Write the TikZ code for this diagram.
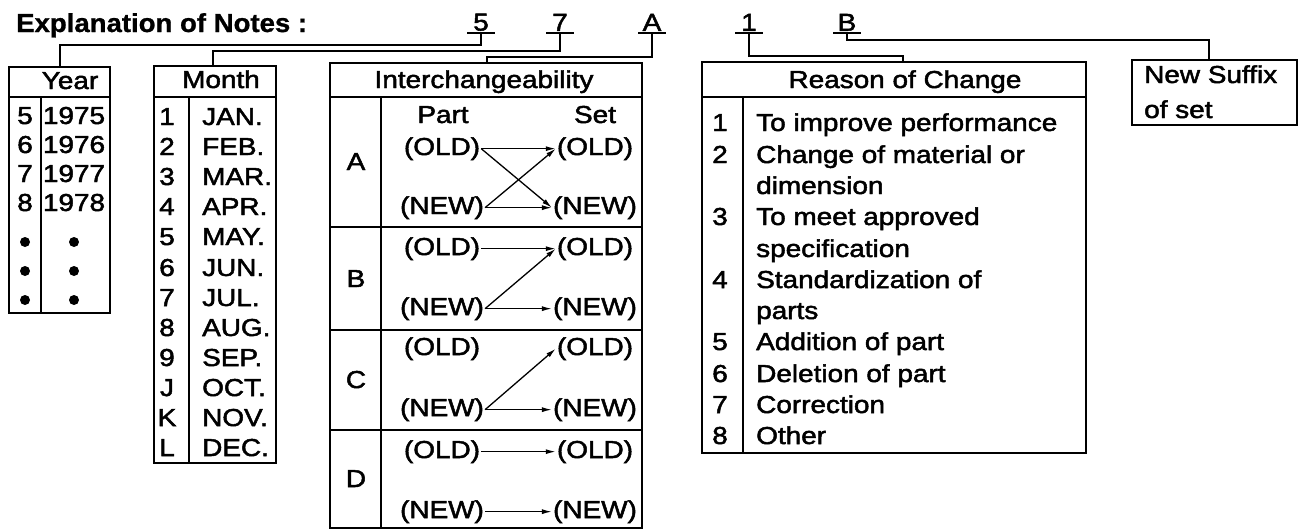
\documentclass[tikz,border=0pt]{standalone}
\usepackage{fontspec}
\setmainfont{Liberation Sans}[FakeStretch=1.14, FakeBold=2]
\newfontfamily\titlefont{Liberation Sans}[FakeStretch=1.06, FakeBold=1]
\usetikzlibrary{arrows.meta}

\begin{document}
\begin{tikzpicture}[x=1pt, y=-1pt,
  every node/.style={inner sep=1pt, font=\fontsize{24.5}{28}\selectfont},
  row/.style={anchor=base},
  word/.style={anchor=base west},
  box/.style={line width=1.6pt},
  lead/.style={line width=1.3pt},
  tag/.style={anchor=south, minimum width=27pt, inner ysep=2pt, inner xsep=0pt},
  dot/.style={circle, fill, inner sep=0pt, minimum size=10pt},
  flow/.style={line width=1.3pt, -{Latex[length=10pt, width=5pt]}}]

\useasboundingbox (0,0) rectangle (1303,530);

\node [word, font=\titlefont\bfseries\fontsize{26}{30}\selectfont] (title)  at  (15, 32) {Explanation of Notes :};

% -------- Note tags and leaders -----------
\node [tag] (t5)  at  (481, 33) {5};
\node [tag] (t7)  at  (560, 33) {7};
\node [tag] (tA)  at  (652, 33) {A};
\node [tag] (t1)  at  (749, 33) {1};
\node [tag] (tB)  at  (847, 33) {B};

\coordinate (yeartop)    at  (60, 67);
\coordinate (monthtop)   at  (213, 66);
\coordinate (inttop)     at  (487, 63);
\coordinate (reasontop)  at  (903, 62);
\coordinate (suffixtop)  at  (1209, 60);

\draw [lead] (t5.south west) -- (t5.south east);
\draw [lead] (t7.south west) -- (t7.south east);
\draw [lead] (tA.south west) -- (tA.south east);
\draw [lead] (t1.south west) -- (t1.south east);
\draw [lead] (tB.south west) -- (tB.south east);

\draw [lead] (t5.south) -- ++(0,12) -| (yeartop);
\draw [lead] (t7.south) -- ++(0,18) -| (monthtop);
\draw [lead] (tA.south) -- ++(0,24) -| (inttop);
\draw [lead] (t1.south) -- ++(0,23) -| (reasontop);
\draw [lead] (tB.south) -- ++(0,7) -| (suffixtop);

% -------- Year -----------
\draw [box] (9,67) rectangle (110,313);
\draw [box] (9,97) -- (110,97);
\draw [box] (41,97) -- (41,313);
\node [row] (year)  at  (70, 89) {Year};

\node [row] (y5)  at  (25, 124) {5};
\node [row] (y75) at  (74, 124) {1975};
\node [row] (y6)  at  (25, 153) {6};
\node [row] (y76) at  (74, 153) {1976};
\node [row] (y7)  at  (25, 182) {7};
\node [row] (y77) at  (74, 182) {1977};
\node [row] (y8)  at  (25, 211) {8};
\node [row] (y78) at  (74, 211) {1978};
\node [dot] (yd1)  at  (25, 242) {};
\node [dot] (yd1b) at  (74, 242) {};
\node [dot] (yd2)  at  (25, 271) {};
\node [dot] (yd2b) at  (74, 271) {};
\node [dot] (yd3)  at  (25, 300) {};
\node [dot] (yd3b) at  (74, 300) {};

% -------- Month -----------
\draw [box] (154,66) rectangle (276,463);
\draw [box] (154,97) -- (276,97);
\draw [box] (189,97) -- (189,463);
\node [row] (month)  at  (221, 88) {Month};

\node [row] (m1)  at  (167, 125) {1};
\node [word] (mJan) at  (201, 125) {JAN.};
\node [row] (m2)  at  (167, 155) {2};
\node [word] (mFeb) at  (201, 155) {FEB.};
\node [row] (m3)  at  (167, 185) {3};
\node [word] (mMar) at  (201, 185) {MAR.};
\node [row] (m4)  at  (167, 215) {4};
\node [word] (mApr) at  (201, 215) {APR.};
\node [row] (m5)  at  (167, 245) {5};
\node [word] (mMay) at  (201, 245) {MAY.};
\node [row] (m6)  at  (167, 276) {6};
\node [word] (mJun) at  (201, 276) {JUN.};
\node [row] (m7)  at  (167, 306) {7};
\node [word] (mJul) at  (201, 306) {JUL.};
\node [row] (m8)  at  (167, 336) {8};
\node [word] (mAug) at  (201, 336) {AUG.};
\node [row] (m9)  at  (167, 366) {9};
\node [word] (mSep) at  (201, 366) {SEP.};
\node [row] (mJ)  at  (167, 396) {J};
\node [word] (mOct) at  (201, 396) {OCT.};
\node [row] (mK)  at  (167, 426) {K};
\node [word] (mNov) at  (201, 426) {NOV.};
\node [row] (mL)  at  (167, 456) {L};
\node [word] (mDec) at  (201, 456) {DEC.};

% -------- Interchangeability -----------
\draw [box] (330,63) rectangle (642,528);
\draw [box] (330,97) -- (642,97);
\draw [box] (381,97) -- (381,528);
\draw [box] (330,227) -- (642,227);
\draw [box] (330,330) -- (642,330);
\draw [box] (330,430) -- (642,430);
\node [row] (inter)  at  (484, 88) {Interchangeability};

\node [row] (secA)  at  (356, 170) {A};
\node [row] (secB)  at  (356, 287) {B};
\node [row] (secC)  at  (356, 388) {C};
\node [row] (secD)  at  (356, 487) {D};

\node [row] (part)  at  (443, 123) {Part};
\node [row] (set)   at  (595, 123) {Set};

% A
\node [row] (aPo)  at  (442, 155) {(OLD)};
\node [row] (aSo)  at  (595, 155) {(OLD)};
\node [row] (aPn)  at  (442, 214) {(NEW)};
\node [row] (aSn)  at  (595, 214) {(NEW)};
\draw [flow] (aPo.east) -- (aSo.west);
\draw [flow] (aPo.east) -- (aSn.west);
\draw [flow] (aPn.east) -- (aSo.west);
\draw [flow] (aPn.east) -- (aSn.west);

% B
\node [row] (bPo)  at  (442, 255) {(OLD)};
\node [row] (bSo)  at  (595, 255) {(OLD)};
\node [row] (bPn)  at  (442, 315) {(NEW)};
\node [row] (bSn)  at  (595, 315) {(NEW)};
\draw [flow] (bPo.east) -- (bSo.west);
\draw [flow] (bPn.east) -- (bSo.west);
\draw [flow] (bPn.east) -- (bSn.west);

% C
\node [row] (cPo)  at  (442, 355) {(OLD)};
\node [row] (cSo)  at  (595, 355) {(OLD)};
\node [row] (cPn)  at  (442, 416) {(NEW)};
\node [row] (cSn)  at  (595, 416) {(NEW)};
\draw [flow] (cPn.east) -- (cSo.west);
\draw [flow] (cPn.east) -- (cSn.west);

% D
\node [row] (dPo)  at  (442, 458) {(OLD)};
\node [row] (dSo)  at  (595, 458) {(OLD)};
\node [row] (dPn)  at  (442, 518) {(NEW)};
\node [row] (dSn)  at  (595, 518) {(NEW)};
\draw [flow] (dPo.east) -- (dSo.west);
\draw [flow] (dPn.east) -- (dSn.west);

% -------- Reason of Change -----------
\draw [box] (702,62) rectangle (1086,453);
\draw [box] (702,97) -- (1086,97);
\draw [box] (743,97) -- (743,453);
\node [row] (reason)  at  (905, 88) {Reason of Change};

\node [row] (r1)   at  (720, 131) {1};
\node [word] (r1t)  at  (755, 131) {To improve performance};
\node [row] (r2)   at  (720, 163) {2};
\node [word] (r2t)  at  (755, 163) {Change of material or};
\node [word] (r2u)  at  (755, 194) {dimension};
\node [row] (r3)   at  (720, 225) {3};
\node [word] (r3t)  at  (755, 225) {To meet approved};
\node [word] (r3u)  at  (755, 257) {specification};
\node [row] (r4)   at  (720, 288) {4};
\node [word] (r4t)  at  (755, 288) {Standardization of};
\node [word] (r4u)  at  (755, 319) {parts};
\node [row] (r5)   at  (720, 350) {5};
\node [word] (r5t)  at  (755, 350) {Addition of part};
\node [row] (r6)   at  (720, 382) {6};
\node [word] (r6t)  at  (755, 382) {Deletion of part};
\node [row] (r7)   at  (720, 413) {7};
\node [word] (r7t)  at  (755, 413) {Correction};
\node [row] (r8)   at  (720, 444) {8};
\node [word] (r8t)  at  (755, 444) {Other};

% -------- New Suffix -----------
\draw [box] (1132,60) rectangle (1297,125);
\node [word] (suffix)   at  (1143, 83)  {New Suffix};
\node [word] (suffixb)  at  (1143, 118) {of set};

\end{tikzpicture}
\end{document}
